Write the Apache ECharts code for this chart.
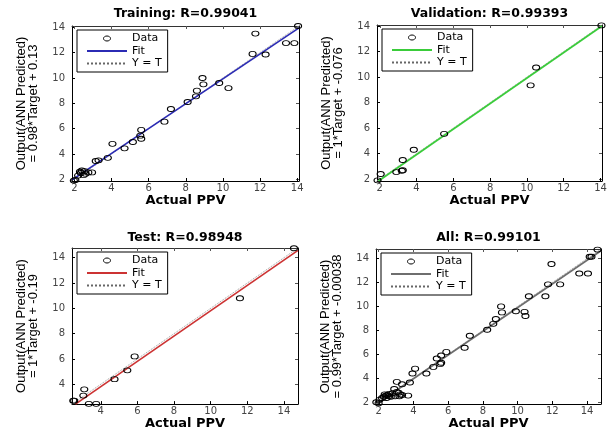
<!DOCTYPE html>
<html><head><meta charset="utf-8">
<script src="https://cdn.jsdelivr.net/npm/echarts@6/dist/echarts.min.js"></script>
<style>html,body{margin:0;padding:0;background:#fff}#c{width:611px;height:431px}</style>
</head><body><div id="c"></div>
<script>
// ---- data ----
const titles = ['Training: R=0.99041', 'Validation: R=0.99393', 'Test: R=0.98948', 'All: R=0.99101'];
const equations = ['= 0.98*Target + 0.13', '= 1*Target + -0.076', '= 1*Target + -0.19', '= 0.99*Target + -0.00038'];
const xAxisName = 'Actual PPV';
const yAxisName = 'Output(ANN Predicted)';
const legendNames = ['Data', 'Fit', 'Y = T'];
const axisMin = [1.87, 1.85, 2.43, 1.85];
const axisMax = [14.1, 14.08, 14.77, 14.8];
const ticksMain = [2, 4, 6, 8, 10, 12, 14];
const ticksTest = [4, 6, 8, 10, 12, 14];

const trainData = [
  [14.05, 14.1], [11.75, 13.5], [11.6, 11.9], [12.3, 11.85], [13.4, 12.75], [13.85, 12.75],
  [8.9, 10.0], [8.95, 9.5], [9.8, 9.6], [10.3, 9.2], [8.6, 9.0], [8.55, 8.55], [8.1, 8.1],
  [7.2, 7.55], [6.85, 6.55], [5.6, 5.9], [5.55, 5.45], [5.6, 5.2], [5.15, 4.95], [4.7, 4.45],
  [4.05, 4.8], [3.8, 3.7], [3.15, 3.45], [3.3, 3.5], [2.95, 2.55], [2.75, 2.55], [2.55, 2.65],
  [2.35, 2.5], [2.4, 2.7], [2.2, 2.3], [2.5, 2.35], [2.3, 2.6], [2.6, 2.45], [2.05, 1.95],
  [1.97, 1.9]
];
const valData = [
  [14.05, 14.05], [10.5, 10.75], [10.2, 9.35], [5.5, 5.55], [3.85, 4.3], [3.25, 3.5],
  [3.25, 2.7], [3.2, 2.65], [2.9, 2.55], [2.05, 2.4], [1.88, 1.9]
];
const testData = [
  [14.55, 14.75], [11.6, 10.8], [5.85, 6.2], [5.45, 5.1], [4.75, 4.4], [3.1, 3.6],
  [3.05, 3.1], [2.55, 2.7], [2.5, 2.7], [3.35, 2.45], [3.75, 2.45]
];
const allData = [
  [14.6, 14.75], [14.15, 14.15], [14.25, 14.15], [11.95, 13.55], [13.55, 12.75], [14.05, 12.75],
  [11.75, 11.85], [12.45, 11.85], [11.6, 10.85], [10.65, 10.85], [10.4, 9.55], [10.45, 9.2],
  [9.9, 9.6], [9.05, 10.0], [9.1, 9.5], [8.75, 8.95], [8.6, 8.55], [8.25, 8.05], [7.25, 7.55],
  [6.95, 6.55], [5.9, 6.2], [5.6, 5.9], [5.35, 5.65], [5.6, 5.3], [5.55, 5.2], [5.15, 4.95],
  [4.75, 4.4], [4.1, 4.8], [3.95, 4.4], [3.8, 3.65], [3.05, 3.7], [3.35, 3.5], [3.7, 2.55],
  [3.35, 2.6], [3.05, 2.85], [2.05, 2.2], [2.2, 2.35], [2.3, 2.45], [2.4, 2.55], [2.5, 2.6],
  [2.6, 2.7], [2.45, 2.35], [2.7, 2.45], [2.8, 2.75], [2.95, 2.5], [3.15, 2.8], [3.2, 2.5],
  [3.25, 2.65], [2.9, 3.1], [1.87, 2.0], [2.0, 1.92], [2.6, 2.5], [2.35, 2.65]
];
const trainFit = [[1.87, 1.96], [14.1, 13.95]];
const valFit = [[1.93, 1.85], [14.08, 14.0]];
const testFit = [[2.62, 2.43], [14.77, 14.58]];
const allFit = [[1.87, 1.85], [14.8, 14.65]];
const trainIdent = [[1.87, 1.87], [14.1, 14.1]];
const valIdent = [[1.85, 1.85], [14.08, 14.08]];
const testIdent = [[2.43, 2.43], [14.77, 14.77]];
const allIdent = [[1.85, 1.85], [14.8, 14.8]];

// ---- layout / style ----
const panels = [
  { data: trainData, fit: trainFit, ident: trainIdent, ticks: ticksMain },
  { data: valData, fit: valFit, ident: valIdent, ticks: ticksMain },
  { data: testData, fit: testFit, ident: testIdent, ticks: ticksTest },
  { data: allData, fit: allFit, ident: allIdent, ticks: ticksMain }
];
const grids = [
  { left: 72, top: 26, width: 227, height: 155 },
  { left: 377, top: 25, width: 225, height: 156 },
  { left: 72, top: 248, width: 226, height: 157 },
  { left: 376, top: 249, width: 225, height: 155 }
];
const fitColors = ['#2b2bb4', '#3acc3a', '#cc3333', '#6e6e6e'];
const titleTops = [7, 7, 231, 231];
const ellipse = 'path://M0,2.5C0,1.119 1.567,0 3.5,0C5.433,0 7,1.119 7,2.5C7,3.881 5.433,5 3.5,5C1.567,5 0,3.881 0,2.5Z';

const option = {
  animation: false,
  backgroundColor: '#fff',
  title: [], grid: [], xAxis: [], yAxis: [], legend: [], series: []
};

function addSeries(p, i) {
  const g = grids[i];
  const names = legendNames.map(n => n + '#' + i);
  option.series.push({
    type: 'line', name: names[2], xAxisIndex: i, yAxisIndex: i, data: p.ident,
    symbol: 'none', showSymbol: false, z: 2,
    lineStyle: { color: '#9a9a9a', width: 1, type: 'dotted' }, itemStyle: { color: '#777' }
  });
  option.series.push({
    type: 'line', name: names[1], xAxisIndex: i, yAxisIndex: i, data: p.fit,
    symbol: 'none', showSymbol: false, z: 3,
    lineStyle: { color: fitColors[i], width: 1.7 }, itemStyle: { color: fitColors[i] }
  });
  option.series.push({
    type: 'scatter', name: names[0], xAxisIndex: i, yAxisIndex: i, data: p.data,
    symbol: ellipse, symbolSize: [7, 5], symbolKeepAspect: false, clip: false, z: 4,
    itemStyle: { color: 'rgba(0,0,0,0)', borderColor: '#000', borderWidth: 1, opacity: 1 }
  });
  option.legend.push({
    orient: 'vertical', left: g.left + 5, top: g.top + 4, padding: [3, 6, 3, 9],
    itemGap: 1.5, itemWidth: 40, itemHeight: 5, borderColor: '#000', borderWidth: 1,
    backgroundColor: '#fff', selectedMode: false, symbolKeepAspect: true,
    textStyle: { fontFamily: 'DejaVu Sans', fontSize: 11, color: '#000' },
    data: [
      { name: names[0], itemStyle: { borderWidth: 1, borderColor: '#000', color: 'rgba(0,0,0,0)' } },
      { name: names[1], itemStyle: { opacity: 0 } },
      { name: names[2], itemStyle: { opacity: 0 }, lineStyle: { color: '#666' } }
    ],
    formatter: n => n.split('#')[0]
  });
}

panels.forEach((p, i) => {
  const g = grids[i];
  option.grid.push({ left: g.left, top: g.top, width: g.width, height: g.height, containLabel: false });
  option.title.push({
    text: titles[i], left: g.left + g.width / 2, top: titleTops[i], textAlign: 'center', padding: 0,
    textStyle: { fontFamily: 'DejaVu Sans', fontWeight: 'bold', fontSize: 12.5, color: '#000' }
  });
  const tickCommon = { show: true, inside: true, length: 3, customValues: p.ticks, lineStyle: { color: '#000', width: 1 } };
  option.xAxis.push({
    type: 'value', gridIndex: i, min: axisMin[i], max: axisMax[i], position: 'bottom',
    axisLine: { show: true, onZero: false, lineStyle: { color: '#000', width: 1 } },
    axisTick: tickCommon,
    axisLabel: { customValues: p.ticks, margin: 2, fontFamily: 'DejaVu Sans', fontSize: 10, color: '#444' },
    splitLine: { show: false },
    name: xAxisName, nameLocation: 'middle', nameGap: 10,
    nameTextStyle: { fontFamily: 'DejaVu Sans', fontWeight: 'bold', fontSize: 13, color: '#000' }
  });
  option.yAxis.push({
    type: 'value', gridIndex: i, min: axisMin[i], max: axisMax[i], position: 'left',
    axisLine: { show: true, onZero: false, lineStyle: { color: '#000', width: 1 } },
    axisTick: tickCommon,
    axisLabel: { customValues: p.ticks, margin: 7, fontFamily: 'DejaVu Sans', fontSize: 10, color: '#444' },
    splitLine: { show: false },
    name: yAxisName + '\n' + equations[i], nameLocation: 'middle', nameRotate: 90, nameGap: 33,
    nameTextStyle: { fontFamily: 'Liberation Sans', fontSize: 13, lineHeight: 12, color: '#000' }
  });
  addSeries(p, i);
});

// mirror axes (top and right) for the box and inner ticks
panels.forEach((p, i) => {
  const t = { show: true, inside: true, length: 3, customValues: p.ticks, lineStyle: { color: '#555', width: 1 } };
  option.xAxis.push({
    type: 'value', gridIndex: i, min: axisMin[i], max: axisMax[i], position: 'top',
    axisLine: { show: true, onZero: false, lineStyle: { color: '#333', width: 1 } },
    axisTick: t, axisLabel: { show: false }, splitLine: { show: false }
  });
  option.yAxis.push({
    type: 'value', gridIndex: i, min: axisMin[i], max: axisMax[i], position: 'right',
    axisLine: { show: true, onZero: false, lineStyle: { color: '#000', width: 1 } },
    axisTick: t, axisLabel: { show: false }, splitLine: { show: false }
  });
});

const chart = echarts.init(document.getElementById('c'), null, { renderer: 'canvas' });
chart.setOption(option);
</script>
</body></html>
